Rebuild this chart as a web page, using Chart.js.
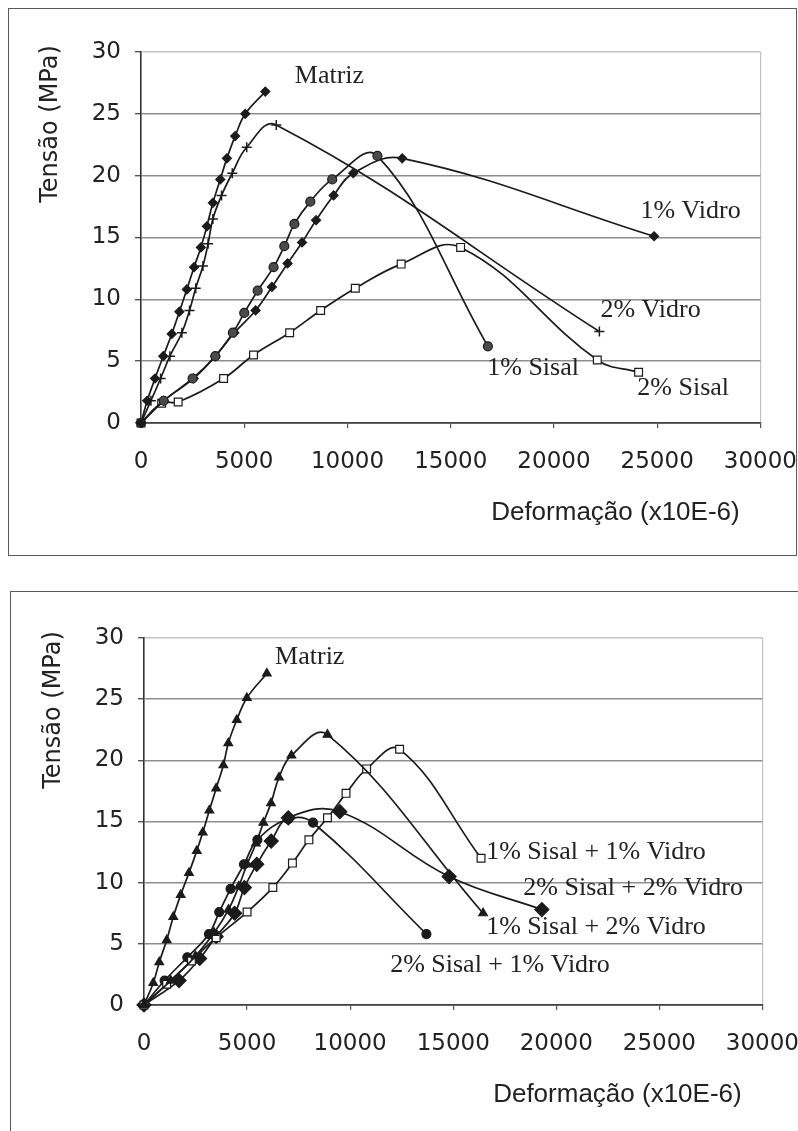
<!DOCTYPE html>
<html>
<head>
<meta charset="utf-8">
<script src="https://cdn.jsdelivr.net/npm/chart.js@4.4.1/dist/chart.umd.min.js"></script>
<style>
  html, body { margin: 0; padding: 0; background: #fff; width: 798px; height: 1131px; overflow: hidden; position: relative; }
  .frame { position: absolute; border: 1.5px solid #5a5a5a; box-sizing: border-box; }
  #frameTop { left: 8px; top: 8px; width: 789px; height: 548px; }
  #frameBottom { left: 10px; top: 591px; width: 820px; height: 600px; }
  canvas { position: absolute; left: 0; }
  #chartTop { top: 0; }
  #chartBottom { top: 570px; }
</style>
</head>
<body>
<div class="frame" id="frameTop"></div>
<div class="frame" id="frameBottom"></div>
<canvas id="chartTop" width="817" height="560"></canvas>
<canvas id="chartBottom" width="819" height="561"></canvas>
<script>
// Axis ticks shared by both panels
const xTickValues = [0, 5000, 10000, 15000, 20000, 25000, 30000];
const xTickLabels = ['0', '5000', '10000', '15000', '20000', '25000', '30000'];
const yTickLabels = ['0', '5', '10', '15', '20', '25', '30'];
const xTitle = 'Deformação (x10E-6)';
const yTitle = 'Tensão (MPa)';

// Upper panel: single-fibre composites (strain x10E-6, stress MPa)
const matrizX = [0, 300, 680, 1080, 1490, 1860, 2220, 2570, 2900, 3190, 3480, 3840, 4160, 4560, 5050, 6020];
const matrizY = [0, 1.8, 3.6, 5.4, 7.2, 9.0, 10.8, 12.6, 14.2, 15.9, 17.8, 19.7, 21.4, 23.2, 25.0, 26.8];

const vidro2X = [0, 480, 950, 1400, 1980, 2350, 2650, 3000, 3250, 3480, 3900, 4420, 5120, 6550, 22200];
const vidro2Y = [0, 1.8, 3.6, 5.4, 7.3, 9.1, 10.9, 12.7, 14.5, 16.5, 18.4, 20.2, 22.3, 24.1, 7.4];

const sisal1X = [0, 1100, 2500, 3600, 4450, 5000, 5650, 6420, 6940, 7430, 8200, 9260, 11450, 16800];
const sisal1Y = [0, 1.8, 3.6, 5.4, 7.3, 8.9, 10.7, 12.6, 14.3, 16.1, 17.9, 19.7, 21.6, 6.2];

const vidro1X = [0, 1100, 2550, 3600, 4520, 5550, 6340, 7100, 7800, 8480, 9330, 10280, 12650, 24850];
const vidro1Y = [0, 1.8, 3.6, 5.4, 7.3, 9.1, 11.0, 12.9, 14.6, 16.4, 18.4, 20.2, 21.4, 15.1];

const sisal2X = [0, 1000, 1800, 4000, 5450, 7200, 8700, 10380, 12600, 15480, 22100, 24100];
const sisal2Y = [0, 1.6, 1.7, 3.6, 5.5, 7.3, 9.1, 10.9, 12.85, 14.2, 5.1, 4.1];

// Lower panel: hybrid sisal + glass composites
const matrizBX = [0, 450, 740, 1100, 1420, 1780, 2180, 2560, 2850, 3170, 3500, 3850, 4090, 4500, 4990, 5960];
const matrizBY = [0, 1.8, 3.5, 5.3, 7.2, 9.0, 10.8, 12.6, 14.1, 15.9, 17.7, 19.6, 21.4, 23.3, 25.1, 27.1];

const s1v2X = [0, 1300, 2500, 3400, 4100, 4600, 5000, 5430, 5790, 6160, 6550, 7150, 8900, 16450];
const s1v2Y = [0, 2.0, 4.0, 5.9, 7.8, 9.7, 11.5, 13.2, 14.9, 16.5, 18.6, 20.4, 22.1, 7.5];

const s1v1X = [0, 1100, 2300, 3500, 5000, 6250, 7200, 8000, 8900, 9800, 10800, 12400, 16350];
const s1v1Y = [0, 1.7, 3.6, 5.5, 7.6, 9.6, 11.6, 13.5, 15.3, 17.3, 19.3, 20.9, 12.0];

const s2v2X = [0, 1700, 2700, 3500, 4400, 4870, 5470, 6170, 7000, 9500, 14800, 19300];
const s2v2Y = [0, 2.0, 3.8, 5.6, 7.5, 9.6, 11.5, 13.4, 15.3, 15.8, 10.5, 7.8];

const s2v1X = [0, 1000, 2100, 3150, 3650, 4200, 4850, 5500, 7000, 8200, 13700];
const s2v1Y = [0, 2.0, 3.9, 5.8, 7.6, 9.5, 11.5, 13.5, 15.2, 14.9, 5.8];

// Curve names written next to each curve (anchored in data units)
const topNotes = [
  { text: 'Matriz', x: 7450, y: 28.05 },
  { text: '1% Vidro', x: 24190, y: 17.1 },
  { text: '2% Vidro', x: 22250, y: 9.15 },
  { text: '1% Sisal', x: 16770, y: 4.47 },
  { text: '2% Sisal', x: 24040, y: 2.85 }
];
const bottomNotes = [
  { text: 'Matriz', x: 6360, y: 28.4 },
  { text: '1% Sisal + 1% Vidro', x: 16600, y: 12.53 },
  { text: '2% Sisal + 2% Vidro', x: 18400, y: 9.57 },
  { text: '1% Sisal + 2% Vidro', x: 16600, y: 6.4 },
  { text: '2% Sisal + 1% Vidro', x: 11940, y: 3.27 }
];

const INK = '#1b1b1b';

function points(xs, ys) {
  return xs.map((x, i) => ({ x: x, y: ys[i] }));
}

function series(label, xs, ys, style) {
  return Object.assign({
    label: label,
    data: points(xs, ys),
    borderColor: INK,
    borderWidth: 1.7,
    tension: 0.4,
    fill: false,
    clip: false,
    pointBorderColor: INK,
    pointBackgroundColor: INK,
    pointBorderWidth: 1.2,
    pointRadius: 4.5
  }, style);
}

// Draws curve names and axis titles
const textPlugin = {
  id: 'chartTexts',
  afterDatasetsDraw(chart, args, opts) {
    const { ctx, chartArea, scales } = chart;
    ctx.save();
    ctx.fillStyle = '#222';
    ctx.textBaseline = 'middle';
    ctx.textAlign = 'left';
    ctx.font = '26px "Liberation Serif"';
    opts.notes.forEach(n => {
      ctx.fillText(n.text, scales.x.getPixelForValue(n.x), scales.y.getPixelForValue(n.y));
    });
    ctx.textAlign = 'center';
    ctx.font = '26px "Liberation Sans"';
    ctx.fillText(xTitle, chartArea.right - 145, chartArea.bottom + 90);
    ctx.translate(chartArea.left - 90, chartArea.top + 72);
    ctx.rotate(-Math.PI / 2);
    ctx.font = '24px "DejaVu Sans"';
    ctx.fillText(yTitle, 0, 0);
    ctx.restore();
  }
};

function makeChart(canvasId, datasets, notes, pad, axisWidth, axisHeight) {
  return new Chart(document.getElementById(canvasId), {
    type: 'line',
    data: { datasets: datasets },
    plugins: [textPlugin],
    options: {
      responsive: false,
      animation: false,
      devicePixelRatio: 1,
      layout: { padding: pad },
      plugins: {
        legend: { display: false },
        tooltip: { enabled: false },
        chartTexts: { notes: notes }
      },
      scales: {
        x: {
          type: 'linear',
          min: 0,
          max: 30000,
          afterBuildTicks: s => { s.ticks = xTickValues.map(v => ({ value: v })); },
          afterFit: s => { s.height = axisHeight; },
          ticks: {
            autoSkip: false,
            maxRotation: 0,
            padding: 20,
            color: '#222',
            font: { family: 'DejaVu Sans', size: 23 },
            callback: (v, i) => xTickLabels[i]
          },
          grid: {
            color: c => (c.tick && c.tick.value === 30000) ? '#c2c2c2' : 'rgba(0,0,0,0)',
            lineWidth: 1.2,
            tickColor: '#555',
            tickLength: 5
          },
          border: { color: '#444', width: 1.8 }
        },
        y: {
          min: 0,
          max: 30,
          afterFit: s => { s.width = axisWidth; },
          ticks: {
            stepSize: 5,
            padding: 14,
            color: '#222',
            font: { family: 'DejaVu Sans', size: 23 },
            callback: (v, i) => yTickLabels[i]
          },
          grid: {
            color: c => (c.tick && c.tick.value === 30) ? '#c4c4c4' : '#8e8e8e',
            lineWidth: 1.4,
            tickColor: '#555',
            tickLength: 6
          },
          border: { color: '#333', width: 1.6 }
        }
      }
    }
  });
}

makeChart('chartTop', [
  series('Matriz', matrizX, matrizY, { pointStyle: 'rectRot', pointRadius: 4.5 }),
  series('2% Vidro', vidro2X, vidro2Y, { pointStyle: 'cross', pointRadius: 5, pointBorderWidth: 1.5 }),
  series('1% Sisal', sisal1X, sisal1Y, { pointStyle: 'circle', pointRadius: 4.5, pointBackgroundColor: '#4a4a4a' }),
  series('1% Vidro', vidro1X, vidro1Y, { pointStyle: 'rectRot', pointRadius: 4.5 }),
  series('2% Sisal', sisal2X, sisal2Y, { pointStyle: 'rect', pointRadius: 5.5, pointBackgroundColor: '#fff', pointBorderWidth: 1.2 })
], topNotes, { top: 52, right: 38, left: 0, bottom: 0 }, 141, 137);

makeChart('chartBottom', [
  series('Matriz', matrizBX, matrizBY, { pointStyle: 'triangle', pointRadius: 5 }),
  series('1% Sisal + 2% Vidro', s1v2X, s1v2Y, { pointStyle: 'triangle', pointRadius: 5 }),
  series('1% Sisal + 1% Vidro', s1v1X, s1v1Y, { pointStyle: 'rect', pointRadius: 5.5, pointBackgroundColor: '#fff', pointBorderWidth: 1.2 }),
  series('2% Sisal + 2% Vidro', s2v2X, s2v2Y, { pointStyle: 'rectRot', pointRadius: 7 }),
  series('2% Sisal + 1% Vidro', s2v1X, s2v1Y, { pointStyle: 'circle', pointRadius: 4.5 })
], bottomNotes, { top: 68, right: 36, left: 0, bottom: 0 }, 144, 126);
</script>
</body>
</html>
